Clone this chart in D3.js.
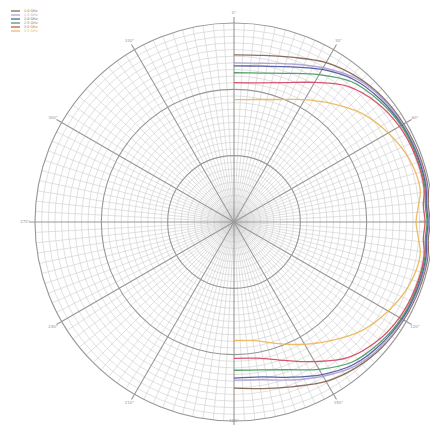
<!DOCTYPE html>
<html>
<head>
<meta charset="utf-8">
<script src="https://cdn.jsdelivr.net/npm/d3@7"></script>
<style>
  html, body { margin: 0; padding: 0; background: #fff; }
  svg { display: block; }
</style>
</head>
<body>
<svg id="chart" width="430" height="425"></svg>
<script>
// Sample angles (degrees, clockwise from top)
const angles = [0, 10, 20, 30, 40, 50, 60, 70, 80, 85, 90, 95, 100, 110, 120, 130, 140, 150, 160, 170, 180];

// Normalised radial response of each trace at the angles above
const seriesNames = ["1.0 GHz", "1.5 GHz", "2.0 GHz", "2.5 GHz", "3.0 GHz", "3.5 GHz"];
const trace1 = [0.84, 0.85, 0.88, 0.925, 0.955, 0.975, 0.985, 0.99, 0.99, 0.98, 0.985, 0.98, 0.99, 0.99, 0.985, 0.975, 0.955, 0.925, 0.88, 0.85, 0.835];
const trace2 = [0.80, 0.81, 0.845, 0.895, 0.945, 0.97, 0.98, 0.985, 0.985, 0.975, 0.98, 0.975, 0.985, 0.985, 0.98, 0.97, 0.945, 0.895, 0.845, 0.805, 0.795];
const trace3 = [0.785, 0.795, 0.83, 0.885, 0.935, 0.96, 0.975, 0.98, 0.98, 0.97, 0.975, 0.97, 0.98, 0.98, 0.975, 0.96, 0.935, 0.885, 0.83, 0.79, 0.785];
const trace4 = [0.75, 0.76, 0.795, 0.855, 0.92, 0.95, 0.97, 0.975, 0.975, 0.965, 0.97, 0.965, 0.975, 0.975, 0.97, 0.95, 0.92, 0.855, 0.79, 0.755, 0.745];
const trace5 = [0.70, 0.71, 0.745, 0.81, 0.89, 0.935, 0.96, 0.97, 0.97, 0.955, 0.96, 0.955, 0.97, 0.97, 0.96, 0.935, 0.89, 0.81, 0.74, 0.695, 0.685];
const trace6 = [0.615, 0.625, 0.655, 0.71, 0.775, 0.845, 0.895, 0.935, 0.95, 0.93, 0.915, 0.93, 0.95, 0.935, 0.895, 0.845, 0.775, 0.71, 0.65, 0.605, 0.595];
const traces = [trace1, trace2, trace3, trace4, trace5, trace6];

// Angular tick labels
const angleTicks = [0, 30, 60, 90, 120, 150, 180, 210, 240, 270, 300, 330];

const colors = ["#7d5f4e", "#a89fd0", "#4d4f9e", "#3f9858", "#d4425e", "#ebb656"];

const W = 430, H = 425;
const svg = d3.select("#chart");
const cx = 234, cy = 222, R = 199;

const rScale = d3.scaleLinear().domain([0, 1]).range([0, R]);
const aScale = d3.scaleLinear().domain([0, 360]).range([0, 2 * Math.PI]);

const g = svg.append("g").attr("transform", `translate(${cx},${cy})`);

// Minor grid: circles every 1/30 of the range, spokes every 3 degrees
const minorR = d3.range(1, 30).filter(k => k % 10 !== 0).map(k => k / 30);
g.append("g").selectAll("circle").data(minorR).join("circle")
  .attr("r", d => rScale(d)).attr("fill", "none")
  .attr("stroke", "#cdcdcd").attr("stroke-width", 0.6);

const minorA = d3.range(0, 360, 3).filter(a => a % 30 !== 0);
g.append("g").selectAll("line").data(minorA).join("line")
  .attr("x1", 0).attr("y1", 0)
  .attr("x2", d => rScale(1) * Math.sin(aScale(d)))
  .attr("y2", d => -rScale(1) * Math.cos(aScale(d)))
  .attr("stroke", "#cdcdcd").attr("stroke-width", 0.6);

// Major grid
const majorR = [1 / 3, 2 / 3, 1];
g.append("g").selectAll("circle").data(majorR).join("circle")
  .attr("r", d => rScale(d)).attr("fill", "none")
  .attr("stroke", "#979797").attr("stroke-width", 1.1);

g.append("g").selectAll("line").data(angleTicks).join("line")
  .attr("x1", 0).attr("y1", 0)
  .attr("x2", d => (rScale(1) + 6) * Math.sin(aScale(d)))
  .attr("y2", d => -(rScale(1) + 6) * Math.cos(aScale(d)))
  .attr("stroke", "#979797").attr("stroke-width", 1.1);

// Angular labels, kept inside the drawing area
const labelPos = d => {
  let x = cx + (rScale(1) + 10) * Math.sin(aScale(d));
  let y = cy - (rScale(1) + 10) * Math.cos(aScale(d));
  x = Math.max(6, Math.min(W - 7, x));
  y = Math.max(4, Math.min(H - 4, y));
  return [x, y];
};
svg.append("g").selectAll("text").data(angleTicks).join("text")
  .attr("x", d => labelPos(d)[0])
  .attr("y", d => labelPos(d)[1])
  .attr("text-anchor", "middle").attr("dominant-baseline", "middle")
  .attr("font-family", "DejaVu Sans, sans-serif").attr("font-size", 4)
  .attr("fill", "#999")
  .text(d => d + "°");

// Traces
const line = d3.lineRadial()
  .angle(d => aScale(d.a))
  .radius(d => rScale(d.v))
  .curve(d3.curveCatmullRom.alpha(0.5));

traces.forEach((vals, i) => {
  const pts = angles.map((a, j) => ({ a: a, v: vals[j] }));
  g.append("path").datum(pts)
    .attr("d", line)
    .attr("fill", "none")
    .attr("stroke", colors[i])
    .attr("stroke-width", 1.3)
    .attr("stroke-opacity", 0.9);
});

// Legend
const legend = svg.append("g").attr("transform", "translate(11,11)");
seriesNames.forEach((name, i) => {
  const row = legend.append("g").attr("transform", `translate(0,${i * 4})`);
  row.append("line").attr("x1", 0).attr("x2", 9).attr("y1", 0).attr("y2", 0)
    .attr("stroke", colors[i]).attr("stroke-width", 1.2);
  row.append("text").attr("x", 13).attr("y", 1.2)
    .attr("font-family", "DejaVu Sans, sans-serif").attr("font-size", 3.4)
    .attr("fill", colors[i]).text(name);
});
</script>
</body>
</html>
